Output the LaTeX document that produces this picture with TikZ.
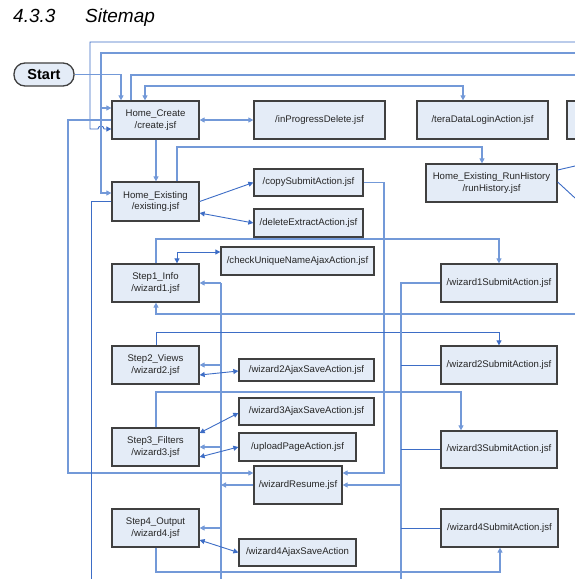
\documentclass[tikz,border=0pt]{standalone}
\usepackage{fontspec}
\setmainfont{Liberation Sans}
\usetikzlibrary{arrows.meta,calc}
\definecolor{dl}{HTML}{3D6DC6}
\definecolor{ll}{HTML}{7399D8}
\definecolor{bxfill}{HTML}{E4ECF7}
\definecolor{bxline}{HTML}{404040}
\begin{document}
\begin{tikzpicture}[x=1pt,y=-1pt,
  bx/.style={draw=bxline,line width=1.3pt,fill=bxfill,inner sep=0pt,align=center,font=\fontsize{9.6}{11.5}\selectfont,text=black!85},
  dk/.style={draw=dl,line width=0.9pt},
  lt/.style={draw=ll,line width=1.2pt},
  tip/.style={-{Triangle[length=5pt,width=5pt]}},
  tips/.style={{Triangle[length=5pt,width=5pt]}-{Triangle[length=5pt,width=5pt]}},
  ttl/.style={anchor=base west,inner sep=0pt,font=\fontsize{19}{22}\selectfont\itshape}
]
\useasboundingbox (0,0) rectangle (575,579);
\clip (0,0) rectangle (575,579);
\fill[white] (0,0) rectangle (575,579);

% title
\node[ttl] (T1) at (13,22) {4.3.3};
\node[ttl] (T2) at (85,22) {Sitemap};

% free ends
\coordinate (eA) at (575,42);
\coordinate (eB) at (575,53);
\coordinate (eD) at (575,75);
\coordinate (eI) at (91,579);
\coordinate (eM1) at (575,166);
\coordinate (eM2) at (575,198);
\coordinate (eQ) at (221,579);
\coordinate (eR) at (575,314);
\coordinate (eY) at (401,579);

% nodes
\node[draw=bxline,line width=1.3pt,fill=bxfill,rounded corners=11pt,minimum width=60pt,minimum height=23pt,inner sep=0pt,font=\fontsize{14.5}{16}\selectfont\bfseries] (ST) at (44,74.5) {Start};
\node[bx,minimum width=87pt,minimum height=38pt] (HC) at (155.5,120) {Home\_Create\\/create.jsf};
\node[bx,minimum width=131pt,minimum height=38pt] (IPD) at (319.5,120) {/inProgressDelete.jsf};
\node[bx,minimum width=131pt,minimum height=38pt] (TDL) at (482.5,120) {/teraDataLoginAction.jsf};
\node[bx,minimum width=131pt,minimum height=38pt] (PB) at (632.5,120) {};
\node[bx,minimum width=131pt,minimum height=38pt] (RH) at (491.5,183) {Home\_Existing\_RunHistory\\/runHistory.jsf};
\node[bx,minimum width=87pt,minimum height=39pt] (HE) at (155.5,201.5) {Home\_Existing\\/existing.jsf};
\node[bx,minimum width=109pt,minimum height=27pt] (CSA) at (308.5,182.5) {/copySubmitAction.jsf};
\node[bx,minimum width=109pt,minimum height=28pt] (DEA) at (308.5,223) {/deleteExtractAction.jsf};
\node[bx,minimum width=153pt,minimum height=28pt] (CUN) at (297.5,261) {/checkUniqueNameAjaxAction.jsf};
\node[bx,minimum width=87pt,minimum height=38pt] (S1) at (155.5,283) {Step1\_Info\\/wizard1.jsf};
\node[bx,minimum width=87pt,minimum height=38pt] (S2) at (155.5,365) {Step2\_Views\\/wizard2.jsf};
\node[bx,minimum width=135pt,minimum height=22pt] (W2A) at (306.5,370) {/wizard2AjaxSaveAction.jsf};
\node[bx,minimum width=135pt,minimum height=27pt] (W3A) at (306.5,411.5) {/wizard3AjaxSaveAction.jsf};
\node[bx,minimum width=87pt,minimum height=38pt] (S3) at (155.5,447) {Step3\_Filters\\/wizard3.jsf};
\node[bx,minimum width=117pt,minimum height=28pt] (UPA) at (297.5,447) {/uploadPageAction.jsf};
\node[bx,minimum width=88pt,minimum height=38pt] (WR) at (298,485) {/wizardResume.jsf};
\node[bx,minimum width=87pt,minimum height=38pt] (S4) at (155.5,528) {Step4\_Output\\/wizard4.jsf};
\node[bx,minimum width=117pt,minimum height=27pt] (W4A) at (297.5,552.5) {/wizard4AjaxSaveAction};
\node[bx,minimum width=116pt,minimum height=38pt] (W1S) at (499,283) {/wizard1SubmitAction.jsf};
\node[bx,minimum width=116pt,minimum height=38pt] (W2S) at (499,365) {/wizard2SubmitAction.jsf};
\node[bx,minimum width=116pt,minimum height=37pt] (W3S) at (499,449.5) {/wizard3SubmitAction.jsf};
\node[bx,minimum width=117pt,minimum height=38pt] (W4S) at (499.5,528) {/wizard4SubmitAction.jsf};

% connectors
\draw[dk,tip] (eA) -| (90,129) -- (98,129) arc[start angle=180,end angle=360,radius=3] -- (HC.west |- 0,129);
\draw[lt,tip] (eB) -| (101,193) -- (HE.west |- 0,193);
\draw[lt,tip] (101,108) -- (HC.west |- 0,108);
\draw[lt,tip] (ST.east) -| (HC.north -| 121,0);
\draw[lt] (HC.north -| 131,0) |- (eD);
\draw[lt,tips] (HC.north -| 145,0) -- (145,86) -- (463,86) -- (TDL.north -| 463,0);
\draw[lt,tips] (HC.east) -- (IPD.west);
\draw[lt,tip] (HC.south -| 156,0) -- (HE.north -| 156,0);
\draw[lt,tip] (HC.west) -- (68,120) -- (68,473) -- (WR.west |- 0,473);
\draw[dk] (HE.west) -- (91,201.5) -- (eI);
\draw[dk,tip] (HE.east) -- (CSA.west);
\draw[dk,tips] (HE.east |- 0,213) -- (DEA.west);
\draw[lt,tip] (HE.north -| 177,0) -- (177,147) -- (482,147) -- (RH.north -| 482,0);
\draw[dk] (RH.east |- 0,170) -- (eM1);
\draw[dk] (RH.east |- 0,182) -- (eM2);
\draw[lt,tip] (CSA.east) -- (384,182.5) -- (384,473) -- (WR.east |- 0,473);
\draw[lt,tip] (S1.north -| 156,0) -- (156,239) -- (499,239) -- (W1S.north);
\draw[dk,tips] (S1.north -| 177,0) -- (177,252) -- (CUN.west |- 0,252);
\draw[lt] (S1.east -| 221,0) -- (eQ);
\draw[lt,tip] (S1.east -| 221,0) -- (S1.east);
\draw[lt,tip] (S2.east -| 221,0) -- (S2.east);
\draw[lt,tip] (S3.east -| 221,0) -- (S3.east);
\draw[lt,tip] (S4.east -| 221,0) -- (S4.east);
\draw[lt,line width=1.7pt,tip] (WR.west) -- (WR.west -| 221,0);
\draw[lt,tip] (eR) -- (156,314) -- (S1.south -| 156,0);
\draw[dk,tip] (S2.north -| 156,0) -- (156,332) -- (499,332) -- (W2S.north);
\draw[dk,tips] (S2.east |- 0,375) -- (W2A.west |- 0,371);
\draw[lt,tip] (S3.north -| 156,0) -- (156,392) -- (461,392) -- (W3S.north -| 461,0);
\draw[dk,tips] (S3.east |- 0,433) -- (W3A.west |- 0,413);
\draw[dk,tips] (S3.east |- 0,457) -- (UPA.west);
\draw[dk,tips] (S4.east |- 0,540) -- (W4A.west);
\draw[lt,tip] (S4.south -| 156,0) -- (156,572) -- (500,572) -- (W4S.south -| 500,0);
\draw[lt] (W1S.west) -- (401,283) -- (eY);
\draw[dk] (W2S.west -| 401,0) -- (W2S.west);
\draw[dk] (W3S.west -| 401,0) -- (W3S.west);
\draw[dk] (W4S.west -| 401,0) -- (W4S.west);
\draw[lt,line width=1.7pt,tip] (WR.east -| 401,0) -- (WR.east);
\end{tikzpicture}
\end{document}
